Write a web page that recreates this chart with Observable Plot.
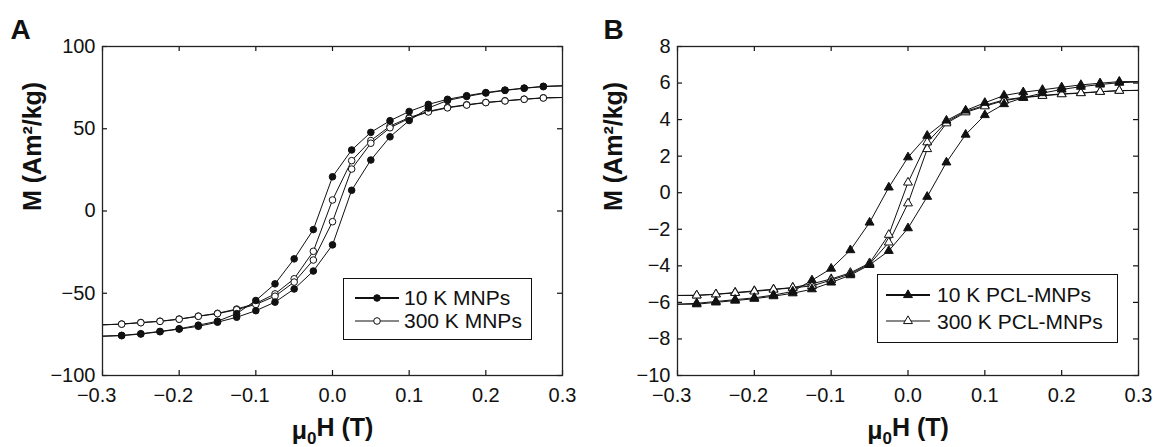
<!DOCTYPE html>
<html><head><meta charset="utf-8">
<script src="https://cdn.jsdelivr.net/npm/d3@7"></script>
<script src="https://cdn.jsdelivr.net/npm/@observablehq/plot@0.6"></script>
<style>
body{margin:0;background:#fff;}
#wrap{position:relative;width:1153px;height:447px;font-family:"Liberation Sans",Arial,sans-serif;overflow:hidden;}
.panel{position:absolute;top:0;}
.legend{position:absolute;border:1.3px solid #111;background:#fff;box-sizing:border-box;}
.legend svg{position:absolute;}
.legend span{position:absolute;font-size:21px;line-height:21px;color:#111;white-space:nowrap;}
</style></head><body><div id="wrap"></div>
<script>
// Applied field μ0H (T)
const H = [-0.3,-0.275,-0.25,-0.225,-0.2,-0.175,-0.15,-0.125,-0.1,-0.075,-0.05,-0.025,0,0.025,0.05,0.075,0.1,0.125,0.15,0.175,0.2,0.225,0.25,0.275,0.3];
// Panel A: MNPs (descending and ascending branches)
const mnp10Desc = [-76,-75.6,-74.6,-73.2,-71.6,-69.4,-67.0,-62.4,-54.4,-44.3,-29.1,-11.3,20.8,37.1,47.8,54.9,60.5,64.8,67.9,70.1,72.0,73.5,74.7,75.8,76.2];
const mnp10Asc  = [-76.2,-75.8,-74.8,-73.4,-71.8,-70.1,-67.6,-64.6,-60.6,-55.4,-47.4,-36.5,-20.6,12.6,31.0,45.1,55.0,62.6,67.2,69.6,71.7,73.3,74.6,75.6,76.0];
const mnp300Desc = [-69.2,-68.7,-67.8,-67.0,-65.7,-63.9,-62.2,-59.6,-56.2,-50.4,-41.2,-24.5,6.7,30.6,42.8,51.6,56.8,60.6,63.0,64.6,66.0,67.0,68.0,68.8,69.0];
const mnp300Asc  = [-69.2,-68.8,-67.9,-67.1,-65.8,-64.0,-62.4,-60.0,-56.8,-51.8,-43.2,-29.8,-6.5,25.5,41.2,50.6,56.3,60.2,62.7,64.4,65.9,66.9,67.9,68.7,69.0];
// Panel B: PCL-MNPs
const pcl10Desc = [-6.1,-6.05,-5.95,-5.85,-5.75,-5.6,-5.4,-4.79,-4.15,-3.14,-1.63,0.29,1.94,3.12,3.95,4.5,4.92,5.32,5.5,5.63,5.77,5.9,5.99,6.08,6.08];
const pcl10Asc  = [-6.1,-6.1,-6.0,-5.9,-5.8,-5.66,-5.5,-5.28,-4.91,-4.51,-3.95,-3.18,-1.94,-0.22,1.66,3.18,4.25,4.85,5.2,5.45,5.65,5.8,5.92,6.02,6.06];
const pcl300Desc = [-5.62,-5.61,-5.55,-5.46,-5.37,-5.28,-5.19,-4.98,-4.72,-4.38,-3.85,-2.30,0.56,2.76,3.87,4.45,4.78,5.08,5.22,5.32,5.41,5.46,5.53,5.59,5.6];
const pcl300Asc  = [-5.62,-5.62,-5.56,-5.48,-5.4,-5.3,-5.2,-5.1,-4.78,-4.44,-3.9,-2.72,-0.58,2.39,3.8,4.4,4.73,5.04,5.2,5.3,5.39,5.45,5.52,5.58,5.6];

const xTicks = [-0.3,-0.2,-0.1,0,0.1,0.2,0.3];
const yTicksA = [-100,-50,0,50,100];
const yTicksB = [-10,-8,-6,-4,-2,0,2,4,6,8];
const namesA = ["10 K MNPs","300 K MNPs"];
const namesB = ["10 K PCL-MNPs","300 K PCL-MNPs"];
const xTitle = "\u03bc0H (T)";
const yTitle = "M (Am\u00b2/kg)";

const FONT = '"Liberation Sans", Arial, sans-serif';
const INK = "#111";

function rows(series, branches) {
  const out = [];
  branches.forEach(([arr, branch]) => arr.forEach((m, i) => out.push({H: H[i], M: m, series, branch: series + branch})));
  return out;
}

function panel({letter, letterDx, titleDx, yDomain, yTicks, data, symbol, names, width, ml, mr}) {
  const mt = 46, mb = 72, height = 447;
  const ph = height - mt - mb, pw = width - ml - mr;
  const interior = d => d.H > -0.3 && d.H < 0.3;
  const s10 = data.filter(d => d.series === names[0]);
  const s300 = data.filter(d => d.series === names[1]);
  const svg = Plot.plot({
    width, height, marginLeft: ml, marginRight: mr, marginTop: mt, marginBottom: mb,
    style: {fontFamily: FONT, color: INK, background: "white", overflow: "visible"},
    x: {domain: [-0.3, 0.3], axis: null},
    y: {domain: yDomain, axis: null},
    marks: [
      Plot.line(s300, {x: "H", y: "M", z: "branch", stroke: INK, strokeWidth: 1}),
      Plot.line(s10, {x: "H", y: "M", z: "branch", stroke: INK, strokeWidth: 1}),
      Plot.dot(s300.filter(interior), {x: "H", y: "M", symbol, r: 3.3, fill: "white", stroke: INK, strokeWidth: 1}),
      Plot.dot(s10.filter(interior), {x: "H", y: "M", symbol, r: 3.3, fill: INK, stroke: INK, strokeWidth: 1}),
      // inward ticks on all four sides
      Plot.tickX(xTicks, {x: d => d, insetTop: ph - 5, stroke: INK, strokeWidth: 1.2}),
      Plot.tickX(xTicks, {x: d => d, insetBottom: ph - 5, stroke: INK, strokeWidth: 1.2}),
      Plot.tickY(yTicks, {y: d => d, insetRight: pw - 5, stroke: INK, strokeWidth: 1.2}),
      Plot.tickY(yTicks, {y: d => d, insetLeft: pw - 5, stroke: INK, strokeWidth: 1.2}),
      Plot.frame({stroke: "#222", strokeWidth: 1.3}),
      Plot.axisY(yTicks, {tickSize: 0, tickPadding: 7, fontSize: 20, label: null, tickFormat: d3.format("d"), fill: INK}),
      Plot.text(xTicks, {x: d => d, text: d => d3.format(".1f")(Math.abs(d)), frameAnchor: "bottom", dy: 12, lineAnchor: "top", fontSize: 20, fill: INK}),
      Plot.text(xTicks.filter(d => d < 0), {x: d => d, text: () => "\u2212", frameAnchor: "bottom", dy: 12, dx: -13.9, lineAnchor: "top", textAnchor: "end", fontSize: 20, fill: INK}),
      Plot.text([yTitle], {text: d => d, frameAnchor: "left", dx: titleDx, rotate: -90, fontSize: 25, fontWeight: "bold", lineAnchor: "middle", fill: INK}),
      Plot.text([xTitle], {text: d => d, frameAnchor: "bottom", dy: 55, lineAnchor: "middle", fontSize: 25, fontWeight: "bold", fill: INK, className: "xtitle"}),
      Plot.text([letter], {text: d => d, frameAnchor: "top-left", dx: letterDx, dy: -8, textAnchor: "start", lineAnchor: "bottom", fontSize: 28, fontWeight: "bold", fill: INK})
    ]
  });
  // typeset the subscript 0 of μ0H
  d3.select(svg).selectAll(".xtitle text").each(function() {
    const t = d3.select(this);
    const s = t.text();
    t.text(null);
    t.append("tspan").text(s.slice(0, 1));
    t.append("tspan").attr("font-size", "17px").attr("dy", "0.3em").text(s.slice(1, 2));
    t.append("tspan").attr("dy", "-0.3em").text(s.slice(2));
  });
  return svg;
}

const dataA = [
  ...rows(namesA[0], [[mnp10Desc, " desc"], [mnp10Asc, " asc"]]),
  ...rows(namesA[1], [[mnp300Desc, " desc"], [mnp300Asc, " asc"]])
];
const dataB = [
  ...rows(namesB[0], [[pcl10Desc, " desc"], [pcl10Asc, " asc"]]),
  ...rows(namesB[1], [[pcl300Desc, " desc"], [pcl300Asc, " asc"]])
];

const wrap = document.getElementById("wrap");
const pA = panel({letter: "A", letterDx: -92, titleDx: -70, yDomain: [-100, 100], yTicks: yTicksA, data: dataA, symbol: "circle", names: namesA, width: 576, ml: 102, mr: 14});
const pB = panel({letter: "B", letterDx: -74, titleDx: -64, yDomain: [-10, 8], yTicks: yTicksB, data: dataB, symbol: "triangle", names: namesB, width: 577, ml: 101, mr: 15});
pA.classList.add("panel"); pA.style.left = "0px";
pB.classList.add("panel"); pB.style.left = "576px";
wrap.appendChild(pA); wrap.appendChild(pB);

function legend({left, top, w, h, rowsY, sampleLeft, textLeft, names, symbol}) {
  const box = document.createElement("div");
  box.className = "legend";
  Object.assign(box.style, {left: left + "px", top: top + "px", width: w + "px", height: h + "px"});
  names.forEach((name, i) => {
    const filled = i === 0;
    const svg = d3.create("svg").attr("width", 44).attr("height", 12)
      .style("left", sampleLeft + "px").style("top", (rowsY[i] - 6) + "px");
    svg.append("line").attr("x1", 0).attr("x2", 44).attr("y1", 6).attr("y2", 6)
      .attr("stroke", INK).attr("stroke-width", filled ? 1.8 : 1.2);
    const sym = d3.symbol(symbol === "circle" ? d3.symbolCircle : d3.symbolTriangle, Math.PI * 3.3 * 3.3);
    svg.append("path").attr("d", sym()).attr("transform", "translate(22,6)")
      .attr("fill", filled ? INK : "white").attr("stroke", INK).attr("stroke-width", 1);
    box.appendChild(svg.node());
    const span = document.createElement("span");
    span.textContent = name;
    span.style.left = textLeft + "px";
    span.style.top = (rowsY[i] - 10.5) + "px";
    box.appendChild(span);
  });
  wrap.appendChild(box);
}
legend({left: 343, top: 278, w: 189, h: 62, rowsY: [18.5, 41.5], sampleLeft: 11, textLeft: 60, names: namesA, symbol: "circle"});
legend({left: 877, top: 274, w: 241, h: 69, rowsY: [19.5, 46], sampleLeft: 8, textLeft: 59, names: namesB, symbol: "triangle"});
</script></body></html>
